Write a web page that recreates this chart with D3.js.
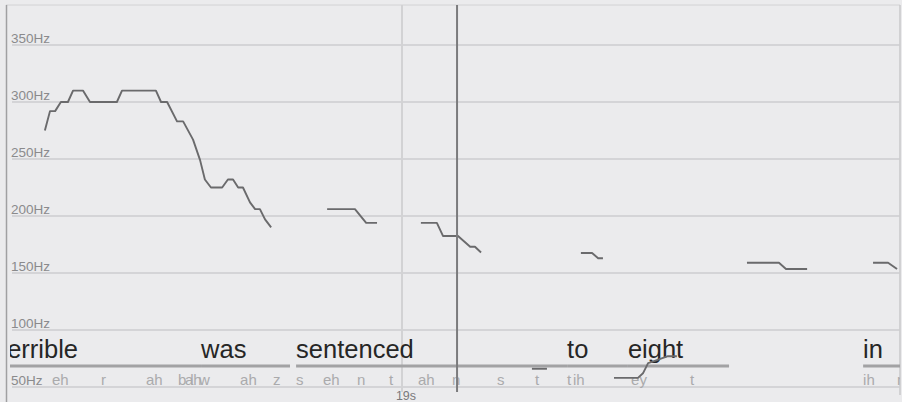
<!DOCTYPE html>
<html><head><meta charset="utf-8">
<script src="https://cdn.jsdelivr.net/npm/d3@7"></script>
<style>html,body{margin:0;padding:0;background:#ebebed;} svg{display:block;font-family:"Liberation Sans",Arial,sans-serif}</style>
</head><body><svg id="c" width="902" height="402"></svg>
<script>
// ---- data ----
const freqTicks = [50, 100, 150, 200, 250, 300, 350];
const timeTicks = [19];
const playheadTime = 19.172;

// pitch contour segments: [time (s), frequency (Hz)]
const seg1 = [[17.884,275],[17.900,292],[17.916,292],[17.934,300],[17.956,300],[17.972,310],[18.003,310],[18.025,300],[18.109,300],[18.125,310],[18.231,310],[18.247,300],[18.266,300],[18.297,283],[18.316,283],[18.347,267],[18.369,249],[18.384,232],[18.403,225],[18.438,225],[18.456,232],[18.472,232],[18.488,225],[18.503,225],[18.525,212],[18.541,206],[18.556,206],[18.572,197],[18.591,190]];
const seg2 = [[18.766,206],[18.853,206],[18.888,194],[18.922,194]];
const seg3 = [[19.059,194],[19.109,194],[19.128,182.5],[19.175,182.5],[19.213,173],[19.228,173],[19.247,168]];
const seg4 = [[19.406,66],[19.453,66]];
const seg5 = [[19.559,167.5],[19.594,167.5],[19.613,163],[19.628,163]];
const seg6 = [[19.6625,58],[19.7375,58],[19.753,62],[19.769,71],[19.781,72],[19.831,77],[19.859,77]];
const seg7 = [[20.078,159],[20.178,159],[20.200,153.5],[20.266,153.5]];
const seg8 = [[20.472,159],[20.519,159],[20.547,153.5]];
const pitchSegments = [seg1, seg2, seg3, seg4, seg5, seg6, seg7, seg8];

const words      = ["terrible", "was", "sentenced", "to", "eight", "in"];
const wordStarts = [17.744, 18.372, 18.669, 19.516, 19.706, 20.441];
const wordEnds   = [18.372, 18.650, 19.516, 19.706, 20.022, 20.600];

const phonemes      = ["eh","r","ah","b","ah","l","w","ah","z","s","eh","n","t","ah","n","s","t","t","ih","ey","t","ih","n"];
const phonemeStarts = [17.906,18.059,18.200,18.300,18.322,18.338,18.366,18.494,18.597,18.669,18.753,18.859,18.959,19.050,19.156,19.297,19.416,19.516,19.534,19.716,19.900,20.441,20.547];

// ---- drawing ----
const svg = d3.select("#c");
const x = d3.scaleLinear().domain([17.7625, 20.546875]).range([6, 897]);
const y = d3.scaleLinear().domain([50, 350]).range([387, 45]);

svg.append("defs").append("clipPath").attr("id","clip")
  .append("rect").attr("x", 10).attr("y", 5).attr("width", 890).attr("height", 397);

// frame
svg.append("line").attr("x1",6).attr("x2",900).attr("y1",5).attr("y2",5).attr("stroke","#d2d2d4").attr("stroke-width",1);
svg.append("line").attr("x1",6.5).attr("x2",6.5).attr("y1",5).attr("y2",402).attr("stroke","#a0a0a2").attr("stroke-width",1.5);
svg.append("line").attr("x1",900).attr("x2",900).attr("y1",5).attr("y2",395).attr("stroke","#c8c8ca").attr("stroke-width",1.5);

// horizontal grid + labels
const g = svg.append("g");
g.selectAll("line.h").data(freqTicks).join("line")
  .attr("x1", 12).attr("x2", 900)
  .attr("y1", d => y(d)).attr("y2", d => y(d))
  .attr("stroke", "#cdcdcf").attr("stroke-width", 1.5);
g.selectAll("text.h").data(freqTicks).join("text")
  .attr("x", 11).attr("y", d => y(d) - 2)
  .attr("font-size", 13.5).attr("fill", "#8a8a8c")
  .text(d => d + "Hz");

// time ticks
svg.selectAll("line.t").data(timeTicks).join("line")
  .attr("x1", d => x(d)).attr("x2", d => x(d))
  .attr("y1", 5).attr("y2", 392)
  .attr("stroke", "#d2d2d4").attr("stroke-width", 2);
svg.selectAll("text.t").data(timeTicks).join("text")
  .attr("x", d => x(d) + 4).attr("y", 400)
  .attr("text-anchor","middle").attr("font-size", 12.5).attr("fill", "#7a7a7c")
  .text(d => d + "s");

const clipG = svg.append("g").attr("clip-path","url(#clip)");

// word lines
clipG.selectAll("line.w").data(words).join("line")
  .attr("x1", (d,i) => x(wordStarts[i])).attr("x2", (d,i) => x(wordEnds[i]))
  .attr("y1", 366).attr("y2", 366)
  .attr("stroke", "#a2a2a4").attr("stroke-width", 3);

// phonemes
clipG.selectAll("text.p").data(phonemes).join("text")
  .attr("x", (d,i) => x(phonemeStarts[i])).attr("y", 385)
  .attr("font-size", 15).attr("fill", "#aaaaac")
  .text(d => d);

// words
clipG.selectAll("text.w").data(words).join("text")
  .attr("x", (d,i) => x(wordStarts[i])).attr("y", 358)
  .attr("font-size", 25.5).attr("fill", "#262626")
  .text(d => d);

// pitch
const line = d3.line().x(d => x(d[0])).y(d => y(d[1]));
clipG.selectAll("path.pitch").data(pitchSegments).join("path")
  .attr("d", line).attr("fill","none")
  .attr("stroke", "#6a6a6c").attr("stroke-width", 1.9)
  .attr("stroke-linejoin","round");

// playhead
svg.append("line")
  .attr("x1", x(playheadTime)).attr("x2", x(playheadTime))
  .attr("y1", 5).attr("y2", 392)
  .attr("stroke", "#7b7b7d").attr("stroke-width", 2);
</script></body></html>
